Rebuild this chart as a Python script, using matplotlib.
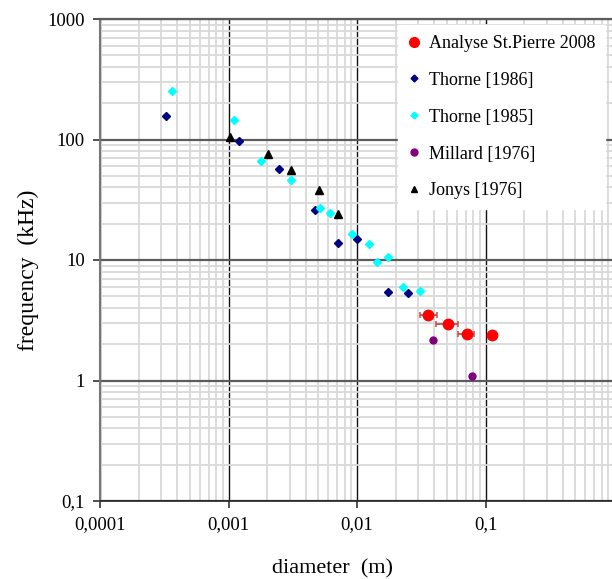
import numpy as np
import matplotlib
matplotlib.use('Agg')
import matplotlib.pyplot as plt
from matplotlib.lines import Line2D
from matplotlib.ticker import FixedLocator, LogLocator, NullFormatter

# Data (diameter in m, frequency in kHz)
stp_d = [0.0356, 0.0509, 0.0716, 0.112]
stp_f = [3.50, 2.96, 2.43, 2.40]
stp_err_lo = [0.0049, 0.0098, 0.0103, 0.0]
stp_err_hi = [0.0060, 0.0104, 0.0105, 0.0]

thorne86_d = [3.26e-4, 1.20e-3, 2.46e-3, 4.69e-3, 7.07e-3, 9.94e-3, 0.0173, 0.0248]
thorne86_f = [157, 97.2, 56.9, 26.0, 13.8, 14.9, 5.43, 5.32]

thorne85_d = [3.63e-4, 1.10e-3, 1.78e-3, 3.05e-3, 5.13e-3, 6.13e-3, 9.09e-3,
              0.0123, 0.0173, 0.0142, 0.0226, 0.0307]
thorne85_f = [253, 145, 66.3, 46.1, 27.0, 24.5, 16.4, 13.6, 10.6, 9.62, 5.97, 5.53]

millard_d = [0.0389, 0.0782]
millard_f = [2.15, 1.10]

jonys_d = [1.024e-3, 2.02e-3, 3.05e-3, 5.04e-3, 7.07e-3]
jonys_f = [105.5, 76.2, 56.2, 37.9, 24.2]

x_ticks = [1e-4, 1e-3, 1e-2, 1e-1]
x_labels = ['0,0001', '0,001', '0,01', '0,1']
y_ticks = [0.1, 1, 10, 100, 1000]
y_labels = ['0,1', '1', '10', '100', '1000']

plt.rcParams['font.family'] = ['Liberation Serif', 'DejaVu Serif']

W, H = 612, 579
fig = plt.figure(figsize=(W / 100, H / 100), dpi=100)
ax = fig.add_axes([100 / W, 1 - 501 / H, (614 - 100) / W, (501 - 19) / H])

ax.set_xscale('log')
ax.set_yscale('log')
ax.set_xlim(1e-4, 1)
ax.set_ylim(0.1, 1000)

# grid
ax.xaxis.set_minor_locator(LogLocator(base=10, subs=np.arange(2, 10)))
ax.yaxis.set_minor_locator(LogLocator(base=10, subs=np.arange(2, 10)))
ax.xaxis.set_minor_formatter(NullFormatter())
ax.yaxis.set_minor_formatter(NullFormatter())
ax.grid(which='minor', color='#d9d9d9', lw=1.3, zorder=0)
ax.xaxis.grid(which='major', color='#111111', lw=1.0, zorder=1)
ax.yaxis.grid(which='major', color='#5c5c5c', lw=1.6, zorder=1)
ax.set_axisbelow(True)

ax.xaxis.set_major_locator(FixedLocator(x_ticks))
ax.yaxis.set_major_locator(FixedLocator(y_ticks))
ax.set_xticklabels(x_labels)
ax.set_yticklabels(y_labels)
ax.tick_params(which='major', length=5, width=1.2, color='#333333', labelsize=13.5, pad=6)
ax.tick_params(which='minor', length=0)

ax.spines['right'].set_visible(False)
ax.spines['top'].set_color('#5c5c5c')
ax.spines['top'].set_linewidth(1.6)
ax.spines['left'].set_color('#777777')
ax.spines['left'].set_linewidth(1.5)
ax.spines['bottom'].set_color('#222222')
ax.spines['bottom'].set_linewidth(1.2)

# series
ax.errorbar(stp_d, stp_f, xerr=[stp_err_lo, stp_err_hi], fmt='o', color='#ff0000',
            ms=7.5, ecolor='#c0504d', elinewidth=1.3, capsize=2.5, capthick=1.1,
            zorder=5)
ax.plot(thorne86_d, thorne86_f, 'D', color='#000080', ms=4.5, ls='none', zorder=4)
ax.plot(thorne85_d, thorne85_f, 'D', color='#00ffff', ms=4.5, ls='none', zorder=4)
ax.plot(millard_d, millard_f, 'o', color='#800080', ms=5, ls='none', zorder=4)
ax.plot(jonys_d, jonys_f, '^', color='#000000', ms=5.5, ls='none', zorder=4)

ax.set_xlabel('diameter  (m)', fontsize=16)
ax.xaxis.set_label_coords(0.453, -0.12)
ax.set_ylabel('frequency  (kHz)', fontsize=17)
ax.yaxis.set_label_coords(-0.118, 0.479)

# legend (marker-only handles like the original)
handles = [
    Line2D([], [], marker='o', color='#ff0000', ls='none', ms=7),
    Line2D([], [], marker='D', color='#000080', ls='none', ms=3.5),
    Line2D([], [], marker='D', color='#00ffff', ls='none', ms=3.5),
    Line2D([], [], marker='o', color='#800080', ls='none', ms=5),
    Line2D([], [], marker='^', color='#000000', ls='none', ms=4.5),
]
labels = ['Analyse St.Pierre 2008', 'Thorne [1986]', 'Thorne [1985]',
          'Millard [1976]', 'Jonys [1976]']
leg = fig.legend(handles, labels, loc='upper left', bbox_to_anchor=(398 / W, 1 - 25 / H),
                 fontsize=13, frameon=True, fancybox=False, framealpha=1,
                 edgecolor='white', facecolor='white', borderpad=0.55,
                 labelspacing=1.1, handlelength=0.7, handletextpad=0.45,
                 borderaxespad=0)
leg.set_zorder(10)

fig.savefig('out.png', dpi=100)
